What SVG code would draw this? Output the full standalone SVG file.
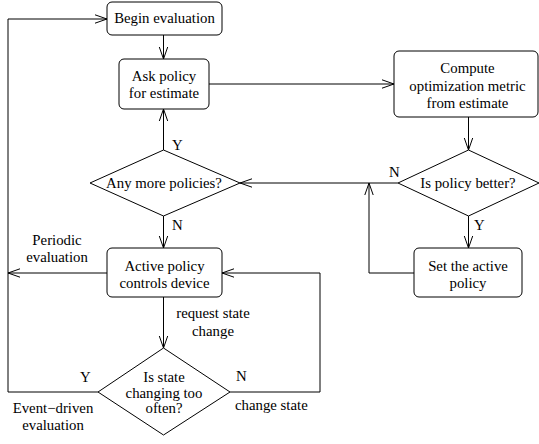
<svg xmlns="http://www.w3.org/2000/svg" width="539" height="444" viewBox="0 0 539 444">
<style>
.box{fill:#fff;stroke:#000;stroke-width:1}
.ln{fill:none;stroke:#000;stroke-width:1}
text{font-family:"Liberation Serif","Times New Roman",serif;font-size:14.8px;fill:#000}
.c{text-anchor:middle}
</style>
<defs>
<marker id="arr" markerUnits="userSpaceOnUse" markerWidth="14" markerHeight="12" refX="12" refY="5" orient="auto" viewBox="0 0 14 10">
<path d="M0,0.8 L12,5 L0,9.2" fill="none" stroke="#000" stroke-width="1"/>
</marker>
</defs>
<g id="connectors">
<path class="ln" d="M163.5,35 V59" marker-end="url(#arr)"/>
<path class="ln" d="M209,84 H394" marker-end="url(#arr)"/>
<path class="ln" d="M468.5,117 V150" marker-end="url(#arr)"/>
<path class="ln" d="M468.5,216 V248" marker-end="url(#arr)"/>
<path class="ln" d="M414,273 H369 V183" marker-end="url(#arr)"/>
<path class="ln" d="M398,183 H240" marker-end="url(#arr)"/>
<path class="ln" d="M163.5,150 V109" marker-end="url(#arr)"/>
<path class="ln" d="M163.5,216 V248" marker-end="url(#arr)"/>
<path class="ln" d="M107,273 H8" marker-end="url(#arr)"/>
<path class="ln" d="M98,392 H8 V19 H107" marker-end="url(#arr)"/>
<path class="ln" d="M163.5,297 V348" marker-end="url(#arr)"/>
<path class="ln" d="M230,392 H320 V273 H222" marker-end="url(#arr)"/>
<text x="172" y="150">Y</text>
<text x="172" y="230">N</text>
<text x="389" y="177">N</text>
<text x="474" y="230">Y</text>
<text class="c" x="57" y="245">Periodic</text>
<text class="c" x="57" y="262">evaluation</text>
<text class="c" x="213" y="318">request state</text>
<text class="c" x="213" y="336">change</text>
<text x="80" y="382">Y</text>
<text x="236" y="381">N</text>
<text x="235" y="410">change state</text>
<text class="c" x="53" y="413">Event−driven</text>
<text class="c" x="53" y="430">evaluation</text>
</g>
<g id="begin">
<rect class="box" x="107" y="2" width="115" height="33" rx="5"/>
<text class="c" x="164.5" y="23">Begin evaluation</text>
</g>
<g id="ask">
<rect class="box" x="119" y="59" width="90" height="50" rx="5"/>
<text class="c" x="164" y="81">Ask policy</text>
<text class="c" x="164" y="98">for estimate</text>
</g>
<g id="compute">
<rect class="box" x="394" y="51" width="144" height="66" rx="5"/>
<text class="c" x="467.5" y="73">Compute</text>
<text class="c" x="467.5" y="91">optimization metric</text>
<text class="c" x="467.5" y="108">from estimate</text>
</g>
<g id="better">
<polygon class="box" points="398,183 468.5,150 539,183 468.5,216"/>
<text class="c" x="468" y="188">Is policy better?</text>
</g>
<g id="set">
<rect class="box" x="414" y="248" width="108" height="49" rx="5"/>
<text class="c" x="468" y="271">Set the active</text>
<text class="c" x="468" y="288">policy</text>
</g>
<g id="more">
<polygon class="box" points="90,183 163.5,150 240,183 163.5,216"/>
<text class="c" x="164" y="188">Any more policies?</text>
</g>
<g id="active">
<rect class="box" x="107" y="248" width="115" height="49" rx="5"/>
<text class="c" x="164.5" y="271">Active policy</text>
<text class="c" x="164.5" y="288">controls device</text>
</g>
<g id="often">
<polygon class="box" points="98,392 163.5,348 230,392 163.5,435"/>
<text class="c" x="164" y="382">Is state</text>
<text class="c" x="164" y="398">changing too</text>
<text class="c" x="164" y="413">often?</text>
</g>
</svg>
